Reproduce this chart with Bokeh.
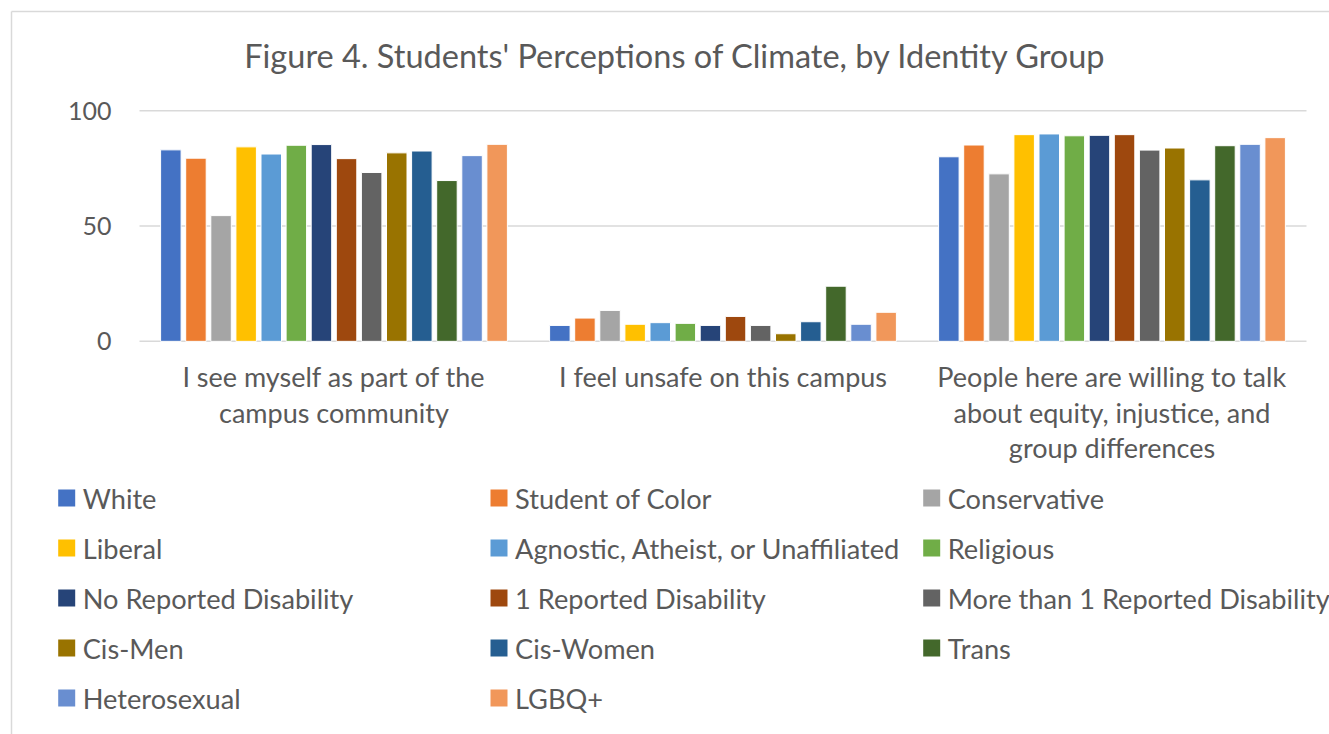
from bokeh.plotting import figure
from bokeh.models import Range1d, ColumnDataSource
from bokeh.embed import file_html
from bokeh.resources import INLINE
from bokeh.core.properties import value

title_text = "Figure 4. Students' Perceptions of Climate, by Identity Group"
statements = [
    "I see myself as part of the\ncampus community",
    "I feel unsafe on this campus",
    "People here are willing to talk\nabout equity, injustice, and\ngroup differences",
]
groups = [
    "White", "Student of Color", "Conservative",
    "Liberal", "Agnostic, Atheist, or Unaffiliated", "Religious",
    "No Reported Disability", "1 Reported Disability", "More than 1 Reported Disability",
    "Cis-Men", "Cis-Women", "Trans",
    "Heterosexual", "LGBQ+",
]
colors = [
    "#4472C4", "#ED7D31", "#A5A5A5",
    "#FFC000", "#5B9BD5", "#70AD47",
    "#264478", "#9E480E", "#636363",
    "#997300", "#255E91", "#43682B",
    "#698ED0", "#F1975A",
]
community = [83.0, 79.4, 54.5, 84.3, 81.2, 85.0, 85.3, 79.2, 73.2, 81.7, 82.5, 69.7, 80.5, 85.4]
unsafe = [6.9, 10.1, 13.4, 7.4, 8.1, 7.8, 6.9, 10.8, 6.9, 3.3, 8.5, 23.9, 7.4, 12.6]
talk = [80.0, 85.1, 72.6, 89.6, 89.9, 89.1, 89.3, 89.6, 82.9, 83.8, 70.0, 84.8, 85.4, 88.3]
y_ticks = [0, 50, 100]

FONT = "Lato"
TXT = "#595959"
GRID = "#d9d9d9"

# page layout in pixels: the plotting area spans x 139..1306, value 0 at y 340.85, 100 at y 110.15
W, H = 1329, 734
PA_LEFT, PA_RIGHT = 139.0, 1306.0
Y_ZERO, Y_HUNDRED = 340.85, 110.15
px_x = (PA_RIGHT - PA_LEFT) / 3.0
px_y = (Y_ZERO - Y_HUNDRED) / 100.0


def xd(px):
    return (px - PA_LEFT) / px_x


def yd(py):
    return (Y_ZERO - py) / px_y


series_by_statement = [community, unsafe, talk]
n = len(groups)
step = 25.1 / px_x
bar_w = 20.5 / px_x

xs, tops, cols = [], [], []
for si, vals in enumerate(series_by_statement):
    for gi, v in enumerate(vals):
        xs.append(si + 0.5 + (gi - (n - 1) / 2) * step)
        tops.append(v)
        cols.append(colors[gi])
src = ColumnDataSource(dict(x=xs, top=tops, color=cols))

p = figure(
    frame_width=W, frame_height=H,
    x_range=Range1d(xd(0), xd(W)), y_range=Range1d(yd(H), yd(0)),
    x_axis_type=None, y_axis_type=None,
    output_backend="svg", toolbar_location=None,
    min_border=0,
)
p.outline_line_color = None
p.xgrid.grid_line_color = None
p.ygrid.grid_line_color = None

# chart border (left and top edges visible in the window)
p.segment(x0=[xd(11), xd(11)], y0=[yd(11), yd(11)], x1=[xd(11), xd(W + 5)], y1=[yd(H + 5), yd(11)],
          line_color=GRID, line_width=1.5)

# horizontal gridlines at the y ticks
p.segment(x0=[0] * len(y_ticks), x1=[3] * len(y_ticks), y0=y_ticks, y1=y_ticks,
          line_color=GRID, line_width=1.5)

# bars
p.vbar(x="x", top="top", width=bar_w, bottom=0, fill_color="color",
       line_color="white", line_width=1, source=src)

# y tick labels
p.text(x=[xd(111)] * len(y_ticks), y=y_ticks, text=[str(t) for t in y_ticks],
       text_align="right", text_baseline="middle",
       text_font=value(FONT), text_font_size="25px", text_color=TXT)

# category labels
p.text(x=[0.5, 1.5, 2.5], y=[yd(359.5)] * 3, text=statements,
       text_align="center", text_baseline="top", text_line_height=1.08,
       text_font=value(FONT), text_font_size="27px", text_color=TXT)

# title
p.text(x=[xd(675)], y=[yd(54.5)], text=[title_text], text_align="center", text_baseline="middle",
       text_font=value(FONT), text_font_size="32.5px", text_color=TXT)

# legend: 3 columns, row-wise order
col_left = [57.7, 490.0, 922.7]
SQ = 17
lx, ly, tx = [], [], []
for k in range(n):
    r, c = divmod(k, 3)
    cy = 497.5 + 50 * r
    lx.append(xd(col_left[c] + SQ / 2))
    tx.append(xd(col_left[c] + 24.5))
    ly.append(yd(cy))
lsrc = ColumnDataSource(dict(x=lx, y=ly, tx=tx, label=groups, color=colors))
p.rect(x="x", y="y", width=SQ / px_x, height=SQ / px_y, fill_color="color",
       line_color=None, source=lsrc)
p.text(x="tx", y="y", text="label", source=lsrc, text_baseline="middle",
       text_font=value(FONT), text_font_size="27.2px", text_color=TXT)

open("out.html", "w").write(file_html(p, INLINE))
